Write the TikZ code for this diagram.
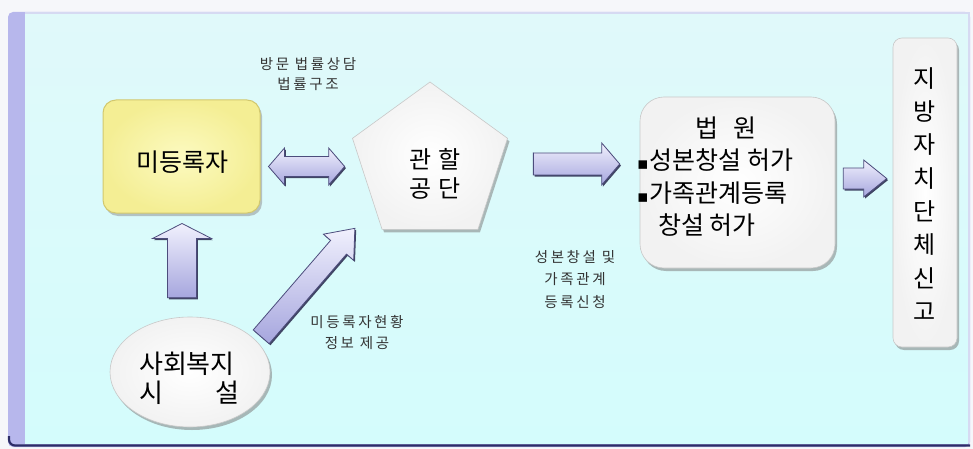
\documentclass[tikz,border=0pt]{standalone}
\usepackage{fontspec}
\setmainfont{Noto Sans CJK KR}
\newfontfamily\kr{Noto Sans CJK KR}
\newfontfamily\krsp[LetterSpace=18]{Noto Sans CJK KR}
\newfontfamily\dejavu{DejaVu Sans}
\usetikzlibrary{shapes.geometric,shadows,calc}

\definecolor{outerbg}{HTML}{F6F7FA}
\definecolor{frameC}{HTML}{B7B7EC}
\definecolor{paleC}{HTML}{D6DAF2}
\definecolor{navyC}{HTML}{2C2C66}
\definecolor{panelTop}{HTML}{E0F9FA}
\definecolor{panelBot}{HTML}{D4FCFC}
\definecolor{yelIn}{HTML}{FCFAC0}
\definecolor{yelOut}{HTML}{F4EE94}
\definecolor{yelEdge}{HTML}{D2C86E}
\definecolor{arrTop}{HTML}{F0F0FD}
\definecolor{arrBot}{HTML}{A6A6DE}
\definecolor{arrEdge}{HTML}{4C4C7C}
\definecolor{arrShadow}{HTML}{26264A}
\definecolor{whiteOut}{HTML}{F2F2F2}
\definecolor{whiteEdge}{HTML}{C8C8C8}
\definecolor{lblC}{HTML}{333333}

\tikzset{
  lbl/.style={font=\krsp\fontsize{14.5}{#1}\selectfont, text=lblC, align=center, inner sep=0pt},
  bigtxt/.style={font=\kr\fontsize{25}{29}\selectfont, inner sep=0pt, align=center},
  barrow/.style={top color=arrTop, bottom color=arrBot, draw=arrEdge, line width=0.8pt,
    drop shadow={shadow xshift=1.3pt, shadow yshift=-1.6pt, fill=arrShadow, opacity=0.85}},
  whiteshape/.style={draw=whiteEdge, line width=0.6pt, inner color=white, outer color=whiteOut,
    drop shadow={shadow xshift=2pt, shadow yshift=-3pt, fill=black!50, opacity=0.55}},
  yellowbox/.style={draw=yelEdge, line width=1pt, inner color=yelIn, outer color=yelOut,
    drop shadow={shadow xshift=2pt, shadow yshift=-3pt, fill=black!45, opacity=0.5}},
}

% single block arrow: start, end, shaft half width, head half width, head length
\newcommand\singlearrow[5]{%
  \path (#1) coordinate (saA) (#2) coordinate (saB);
  \path ($(saB)!#5!(saA)$) coordinate (saH);
  \path[barrow] ($(saA)!#3!90:(saB)$) -- ($(saH)!#3!90:(saB)$) -- ($(saH)!#4!90:(saB)$)
    -- (saB) -- ($(saH)!#4!-90:(saB)$) -- ($(saH)!#3!-90:(saB)$) -- ($(saA)!#3!-90:(saB)$) -- cycle;
}
% double block arrow
\newcommand\doublearrow[5]{%
  \path (#1) coordinate (daA) (#2) coordinate (daB);
  \path ($(daA)!#5!(daB)$) coordinate (daH) ($(daB)!#5!(daA)$) coordinate (daK);
  \path[barrow] (daA) -- ($(daH)!#4!90:(daB)$) -- ($(daH)!#3!90:(daB)$) -- ($(daK)!#3!90:(daB)$)
    -- ($(daK)!#4!90:(daB)$) -- (daB) -- ($(daK)!#4!-90:(daB)$) -- ($(daK)!#3!-90:(daB)$)
    -- ($(daH)!#3!-90:(daB)$) -- ($(daH)!#4!-90:(daB)$) -- cycle;
}

\begin{document}
\begin{tikzpicture}[x=1pt,y=-1pt]
  \useasboundingbox (0,0) rectangle (973,449);
  % background and panel
  \fill[outerbg] (0,0) rectangle (973,449);
  \fill[frameC, rounded corners=5pt] (8,12) rectangle (970,447);
  \shade[top color=panelTop, bottom color=panelBot] (25,14) rectangle (968,443);
  \draw[paleC, line width=2pt] (25,13) -- (970,13);
  \draw[paleC, line width=2pt] (969,13) -- (969,443);
  \draw[navyC, line width=2.2pt, rounded corners=6pt] (9,436) |- (970,445.5);

  % nodes
  \node[yellowbox, rounded corners=13pt, minimum width=157pt, minimum height=113pt] (mid) at (181.5,156.5) {};
  \node[bigtxt] (midt) at (182,162) {미등록자};

  \node[whiteshape, regular polygon, regular polygon sides=5, minimum size=163pt, inner sep=0pt] (pent) at (430,163.5) {};
  \node[bigtxt, font=\kr\fontsize{24}{29}\selectfont] (pentt) at (435,173.5) {관\hspace{6pt}할\\공\hspace{6pt}단};

  \node[whiteshape, rounded corners=24pt, minimum width=195pt, minimum height=171pt] (bw) at (737.5,182.5) {};
  \node[font=\kr\fontsize{25}{32.3}\selectfont, align=left, inner sep=0pt, anchor=west] (bwt) at (637,176.5)
    {\hspace{58pt}법\hspace{15pt}원\\
     {\dejavu\fontsize{17}{17}\selectfont ▪}\hspace{1pt}성본창설 허가\\
     {\dejavu\fontsize{17}{17}\selectfont ▪}\hspace{1pt}가족관계등록\\
     \hspace{21pt}창설 허가};

  \node[whiteshape, rounded corners=9pt, minimum width=64pt, minimum height=309pt] (vb) at (925,192.5) {};
  \node[font=\kr\fontsize{24}{33.3}\selectfont, align=center, inner sep=0pt] (vbt) at (925,194)
    {지\\방\\자\\치\\단\\체\\신\\고};

  \node[whiteshape, ellipse, minimum width=160pt, minimum height=110pt, inner sep=0pt] (ell) at (190,372) {};
  \node[font=\kr\fontsize{26}{29}\selectfont, align=left, inner sep=0pt] (ellt) at (189,378)
    {사회복지\\시\hspace{52pt}설};

  % labels
  \node[lbl=20] (l1) at (308,74) {방문 법률상담\\법률구조};
  \node[lbl=21] (l2) at (357,332.5) {미등록자현황\\정보 제공};
  \node[lbl=22.5] (l3) at (575,279.5) {성본창설 및\\가족관계\\등록신청};

  % block arrows
  \doublearrow{$(mid.east)+(8,10)$}{$(pent.west)+(-15.7,3)$}{10pt}{18.5pt}{16pt}
  \singlearrow{$(ell.north)+(-8,-19)$}{$(mid.south)+(0.5,10)$}{14.5pt}{29.5pt}{15pt}
  \singlearrow{$(ell.north east)+(14.4,3.9)$}{$(pent.corner 3)+(-27,-1.4)$}{10.5pt}{20pt}{25pt}
  \singlearrow{$(pent.corner 5)+(25.5,25.7)$}{$(bw.west)+(-20,-18.5)$}{11pt}{21pt}{18pt}
  \singlearrow{$(bw.east)+(8,-4)$}{$(vb.west)+(-6,-14)$}{10.5pt}{18.5pt}{23pt}
\end{tikzpicture}
\end{document}
